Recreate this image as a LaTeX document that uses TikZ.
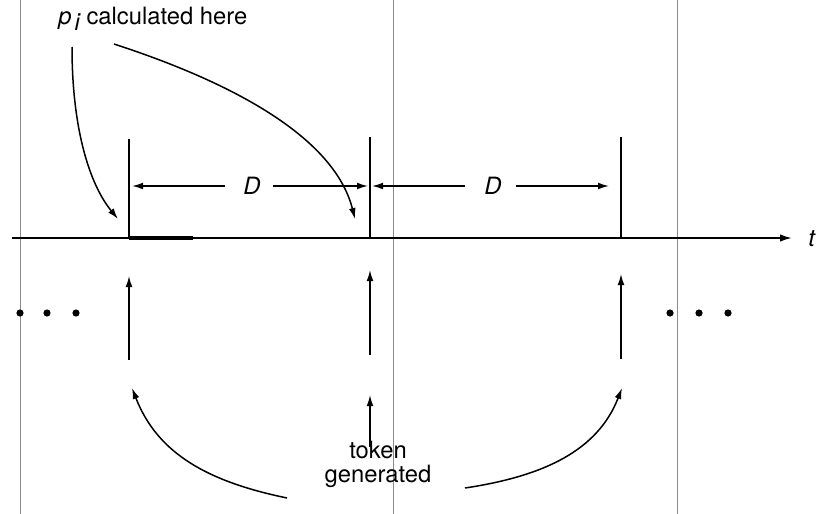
\documentclass[tikz,border=0pt]{standalone}
\usepackage{fontspec}
\setmainfont{TeX Gyre Heros}
\usetikzlibrary{arrows.meta}
\begin{document}
\begin{tikzpicture}[x=0.5pt,y=-0.5pt,
  lbl/.style={font=\fontsize{11.9}{11.8}\selectfont, inner sep=0pt},
  frame/.style={draw=black!45, line width=0.45pt},
  tick/.style={draw=black, line width=0.55pt},
  arr/.style={draw=black, line width=0.75pt, -{Latex[length=5.5pt,width=3.4pt]}},
  dotmark/.style={fill=black}]
\useasboundingbox (0,0) rectangle (820,514);
% scan frame lines
\draw[frame] (20,0) -- (20,514);
\draw[frame] (393,0) -- (393,514);
\draw[frame] (677,0) -- (677,514);
% axis
\coordinate (ax0) at (12,238);
\coordinate (ax1) at (792,238);
\draw[line width=0.95pt, -{Latex[length=6pt,width=3.8pt]}] (ax0) -- (ax1);
\draw[line width=1.6pt] (129,238) -- (193,238);
\node[lbl, anchor=west] (t) at (808,239) {\itshape t};
% ticks
\coordinate (k1t) at (129,139); \coordinate (k1b) at (129,238);
\coordinate (k2t) at (370,137); \coordinate (k2b) at (370,238);
\coordinate (k3t) at (621,137); \coordinate (k3b) at (621,238);
\draw[tick] (k1t) -- (k1b);
\draw[tick] (k2t) -- (k2b);
\draw[tick] (k3t) -- (k3b);
% D dimension arrows
\node[lbl] (D1) at (252,186) {\itshape D};
\node[lbl] (D2) at (493,186) {\itshape D};
\coordinate (d1a) at (225,186); \coordinate (d1ae) at (132,186);
\coordinate (d1b) at (273,186); \coordinate (d1be) at (368,186);
\coordinate (d2a) at (465,186); \coordinate (d2ae) at (372,186);
\coordinate (d2b) at (516,186); \coordinate (d2be) at (609,186);
\draw[arr] (d1a) -- (d1ae);
\draw[arr] (d1b) -- (d1be);
\draw[arr] (d2a) -- (d2ae);
\draw[arr] (d2b) -- (d2be);
% top label and curved arrows
\node[lbl, anchor=base west] (pi) at (58,25) {\itshape p\kern1.5pt\raisebox{-0.45ex}{i}\upshape\ calculated here};
\coordinate (c1s) at (72,47); \coordinate (c1e) at (118,219);
\coordinate (c2s) at (114,44); \coordinate (c2e) at (355,219);
\draw[arr] (c1s) .. controls (72,130) and (90,185) .. (c1e);
\draw[arr] (c2s) .. controls (240,85) and (335,140) .. (c2e);
% dots
\fill[dotmark] (20,313) circle[radius=1.8pt];
\fill[dotmark] (47,313) circle[radius=1.8pt];
\fill[dotmark] (76,313) circle[radius=1.8pt];
\fill[dotmark] (670,313) circle[radius=1.8pt];
\fill[dotmark] (699,313) circle[radius=1.8pt];
\fill[dotmark] (728,313) circle[radius=1.8pt];
% upward arrows
\coordinate (u1s) at (129,360); \coordinate (u1e) at (129,276);
\coordinate (u2s) at (370,355); \coordinate (u2e) at (370,270);
\coordinate (u3s) at (370,447); \coordinate (u3e) at (370,395);
\coordinate (u4s) at (621,359); \coordinate (u4e) at (621,274);
\draw[arr] (u1s) -- (u1e);
\draw[arr] (u2s) -- (u2e);
\draw[arr] (u3s) -- (u3e);
\draw[arr] (u4s) -- (u4e);
% token generated
\node[lbl, align=center, anchor=base] (tok) at (378,482) {token\\generated};
\coordinate (b1s) at (287,498); \coordinate (b1e) at (132,388);
\coordinate (b2s) at (465,488); \coordinate (b2e) at (622,388);
\draw[arr] (b1s) .. controls (210,482) and (158,455) .. (b1e);
\draw[arr] (b2s) .. controls (545,476) and (598,450) .. (b2e);
\end{tikzpicture}
\end{document}
